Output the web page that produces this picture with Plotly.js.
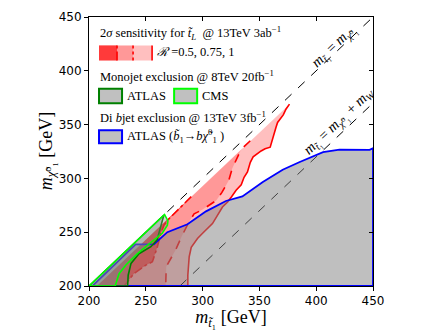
<!DOCTYPE html>
<html>
<head>
<meta charset="utf-8">
<script src="https://cdn.plot.ly/plotly-3.0.1.min.js"></script>
<style>html,body{margin:0;padding:0;background:#fff;}#chart{width:440px;height:330px;}</style>
</head>
<body>
<div id="chart"></div>
<script>
// ---------------- data ----------------
const tickVals = [200, 250, 300, 350, 400, 450];

// upper edge start of the sensitivity regions (just below m_t = m_chi)
const edgeStartX = 207, edgeStartY = 200;

// R = 1 (solid)
const solidX = [376.5, 373.5, 371, 366, 364.5, 362, 359.5, 355, 351.5, 344.5, 342, 339.5, 336.5, 334, 329.5, 325.5, 322, 317.5, 308.7, 300, 295.5, 290, 288.2, 287, 287];
const solidY = [369, 364.5, 359, 352, 347, 338, 329, 327.5, 325.5, 320, 315, 306, 301, 294, 289, 283, 278, 273.4, 258, 249, 244.2, 236, 227.2, 210, 200];
// R = 0.75 (dashed)
const dashedX = [342, 336, 333, 326, 323, 317, 312, 306, 300, 292.5, 288, 282, 276, 268, 267.5];
const dashedY = [335, 329, 325, 309, 298, 287, 279.5, 275, 271, 267, 259.5, 247, 233, 218, 200];
// R = 0.5 (dash-dot)
const dashdotX = [290, 280, 270, 266, 263.2, 260.2, 255.8, 250, 239.7, 230.9];
const dashdotY = [283, 272, 262, 256.5, 248.8, 236.4, 222.5, 219.4, 211.7, 200];

// Di b-jet ATLAS exclusion boundary
const bjetX = [203, 241, 257, 269, 286.7, 303, 320.5, 335, 353, 370.5, 385, 406, 420.5, 447, 450, 450];
const bjetY = [200, 238.6, 238.6, 250, 257.4, 269.4, 279, 283.3, 296.6, 308, 315, 324.4, 326.8, 326.6, 328, 200];

// Monojet ATLAS / CMS exclusion polygons
const atlasX = [200, 266, 264.5, 262, 260, 254.5, 244, 237, 234.5, 234];
const atlasY = [200, 266, 260.5, 250, 243, 236.5, 230, 221, 210, 200];
const cmsX = [200, 266.5, 269.5, 269, 264.5, 259, 250, 242.5, 232.5, 226.5, 223];
const cmsY = [200, 266.5, 260.5, 256.5, 249, 244, 236.5, 230, 219.5, 211.5, 200];

// kinematic lines: m_t = m_chi and m_t = m_chi + m_W
const mW = 80;
const diagX = [200, 450];
const diagY = [200, 450];
const diagWX = [200 + mW, 450];
const diagWY = [200, 450 - mW];

// ---------------- styles ----------------
const RED = '#ff0000';
const serif = 'Liberation Serif, DejaVu Serif, serif';
const grayFill = 'rgba(128,128,128,0.5)';
const monoFill = 'rgba(128,128,128,0.35)';
const A1 = 0.25, A2 = 0.2, A3 = 0.62;

function region(cx, cy, alpha) {
  return {x: [edgeStartX].concat(cx), y: [edgeStartY].concat(cy), type: 'scatter', mode: 'lines',
    fill: 'toself', fillcolor: 'rgba(255,0,0,' + alpha + ')', line: {width: 0}, hoverinfo: 'skip'};
}
function curve(cx, cy, dash) {
  return {x: cx, y: cy, type: 'scatter', mode: 'lines', line: {color: RED, width: 1.6, dash: dash}, hoverinfo: 'skip'};
}
function closed(a) { return a.concat([a[0]]); }

const traces = [
  region(solidX, solidY, A1),
  region(dashedX, dashedY, A2),
  region(dashdotX, dashdotY, A3),
  curve(solidX, solidY, 'solid'),
  curve(dashedX, dashedY, 'dash'),
  curve(dashdotX, dashdotY, 'dashdot'),
  {x: diagX, y: diagY, type: 'scatter', mode: 'lines', line: {color: '#000', width: 1, dash: 'dash'}},
  {x: diagWX, y: diagWY, type: 'scatter', mode: 'lines', line: {color: '#000', width: 1, dash: 'dash'}},
  {x: closed(bjetX), y: closed(bjetY), type: 'scatter', mode: 'lines', fill: 'toself', fillcolor: grayFill,
   line: {color: '#0000ff', width: 1.8}},
  {x: closed(atlasX), y: closed(atlasY), type: 'scatter', mode: 'lines', fill: 'toself', fillcolor: monoFill,
   line: {color: '#008000', width: 1.6}},
  {x: closed(cmsX), y: closed(cmsY), type: 'scatter', mode: 'lines', fill: 'toself', fillcolor: monoFill,
   line: {color: '#00ff00', width: 1.6}},
  // carrier for the top/right tick axes
  {x: [200], y: [200], xaxis: 'x2', yaxis: 'y2', type: 'scatter', mode: 'markers', marker: {opacity: 0}, hoverinfo: 'skip'}
];

// ---------------- legend (drawn by hand, pixel placement) ----------------
const L = 89, T = 16.5, W = 283.6, H = 269.5;
const px = p => (p - L) / W;
const py = p => (T + H - p) / H;

function rect(x0, x1, y0, y1, fill, lc, lw, dash) {
  return {type: 'rect', xref: 'paper', yref: 'paper', x0: px(x0), x1: px(x1), y0: py(y1), y1: py(y0),
    fillcolor: fill, line: {color: lc || 'rgba(0,0,0,0)', width: lw || 0, dash: dash || 'solid'}};
}
function vline(x, y0, y1, dash) {
  return {type: 'line', xref: 'paper', yref: 'paper', x0: px(x), x1: px(x), y0: py(y1), y1: py(y0),
    line: {color: RED, width: 1.6, dash: dash}};
}
const shapes = [
  rect(99, 152, 45, 60, 'rgba(255,0,0,' + A1 + ')'),
  rect(99, 133, 45, 60, 'rgba(255,0,0,' + A2 + ')'),
  rect(99, 117, 45, 60, 'rgba(255,0,0,' + A3 + ')'),
  vline(152, 45, 60, 'solid'),
  vline(133, 45, 60, 'dot'),
  vline(117, 45, 60, 'dashdot'),
  rect(99, 122, 88.5, 103, '#c0c0c0', '#008000', 2),
  rect(174, 197, 88.5, 103, '#c0c0c0', '#00ff00', 2),
  rect(99, 122, 130, 143, '#c0c0c0', '#0000ff', 2)
];

function txt(x, y, t) {
  return {xref: 'paper', yref: 'paper', x: px(x), y: py(y), text: t, showarrow: false,
    xanchor: 'left', yanchor: 'middle', font: {family: serif, size: 12.5, color: '#000'}};
}
const annotations = [
  txt(98, 33, '2<i>σ</i> sensitivity for <i>t̃</i><sub><i>L</i></sub>  @ 13TeV 3ab<sup>−1</sup>'),
  txt(155, 52, '<i>ℛ</i> =0.5, 0.75, 1'),
  txt(98, 76, 'Monojet exclusion @ 8TeV 20fb<sup>−1</sup>'),
  txt(125, 96, 'ATLAS'),
  txt(200, 96, 'CMS'),
  txt(98, 117, 'Di <i>b</i>jet exclusion @ 13TeV 3fb<sup>−1</sup>'),
  txt(125, 136, 'ATLAS (<i>b̃</i><sub>1</sub>→<i>bχ̃</i><sup>0</sup><sub>1</sub> )'),
  {xref: 'paper', yref: 'paper', x: px(334), y: py(46), xanchor: 'center', yanchor: 'middle',
   text: '<i>m</i><sub><i>t̃</i>₁</sub> = <i>m</i><sub><i>χ̃</i>⁰₁</sub>',
   showarrow: false, textangle: -43.6, font: {family: serif, size: 14.5, color: '#000'}},
  {xref: 'paper', yref: 'paper', x: px(339), y: py(121), xanchor: 'center', yanchor: 'middle',
   text: '<i>m</i><sub><i>t̃</i>₁</sub> = <i>m</i><sub><i>χ̃</i>⁰₁</sub> + <i>m</i><sub><i>W</i></sub>',
   showarrow: false, textangle: -43.6, font: {family: serif, size: 14.5, color: '#000'}},
  {xref: 'paper', yref: 'paper', x: px(47), y: py(151), xanchor: 'center', yanchor: 'middle',
   text: '<i>m</i><sub><i>χ̃</i>⁰₁</sub> [GeV]', showarrow: false, textangle: -90,
   font: {family: serif, size: 18, color: '#000'}}
];

const axBase = {range: [200, 450], tickmode: 'array', tickvals: tickVals, showgrid: false, zeroline: false,
  showline: true, linecolor: '#000', linewidth: 1, ticklen: 4, tickcolor: '#000', tickwidth: 1,
  tickfont: {family: 'DejaVu Sans', size: 12, color: '#000'}};

const layout = {
  width: 440, height: 330, margin: {l: L, r: 440 - L - W, t: T, b: 330 - T - H},
  paper_bgcolor: '#fff', plot_bgcolor: '#fff', showlegend: false,
  xaxis: Object.assign({}, axBase, {ticks: 'outside', mirror: true,
    title: {text: '<i>m</i><sub><i>t̃</i>₁</sub> [GeV]', font: {family: serif, size: 18, color: '#000'}, standoff: 3}}),
  yaxis: Object.assign({}, axBase, {ticks: 'outside', mirror: true}),
  xaxis2: Object.assign({}, axBase, {overlaying: 'x', side: 'top', ticks: 'inside', showticklabels: false}),
  yaxis2: Object.assign({}, axBase, {overlaying: 'y', side: 'right', ticks: 'inside', showticklabels: false}),
  shapes: shapes,
  annotations: annotations
};

Plotly.newPlot('chart', traces, layout, {staticPlot: true, displayModeBar: false});
</script>
</body>
</html>
